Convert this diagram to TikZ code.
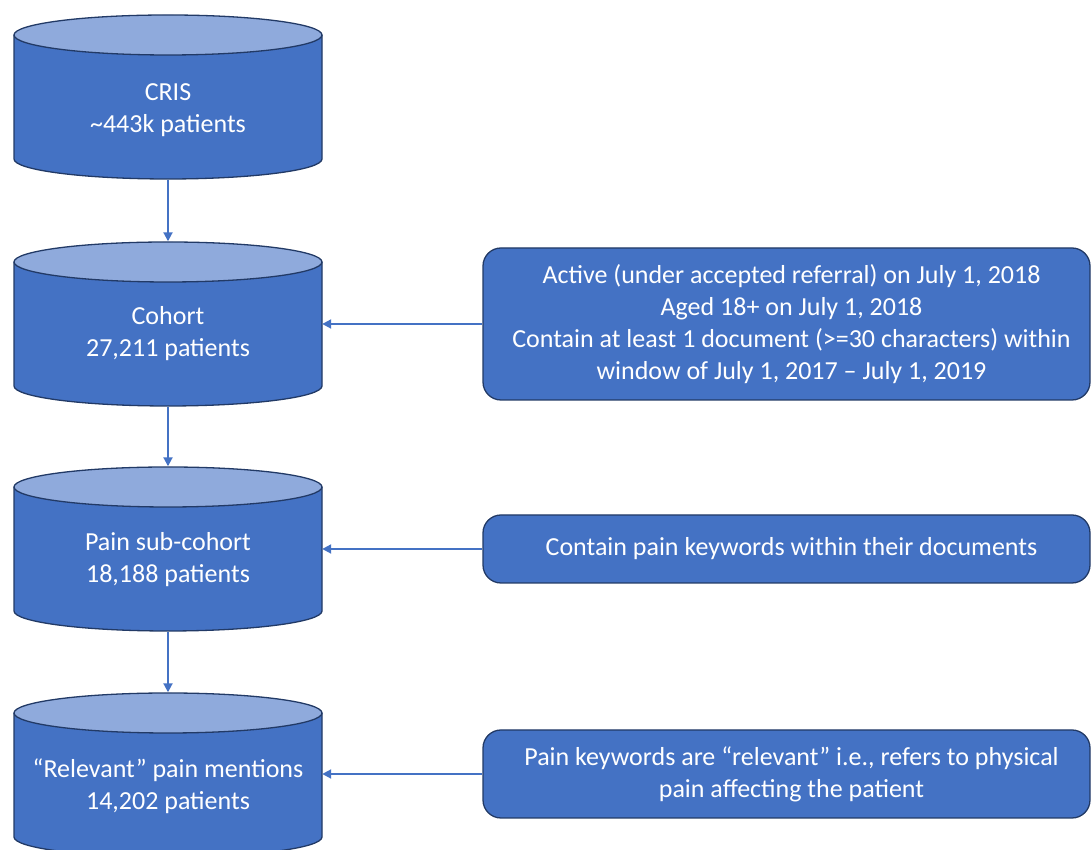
\documentclass[tikz,border=0pt]{standalone}
\usepackage{fontspec}
\setmainfont{Carlito}
\usetikzlibrary{arrows.meta,calc}
\definecolor{offblue}{HTML}{4472C4}
\definecolor{lightblue}{HTML}{8FAADC}
\definecolor{edgeblue}{HTML}{223A66}
\tikzset{
  cyltop/.style={fill=lightblue,draw=edgeblue,line width=1.3pt},
  cylanchor/.style={rectangle,minimum width=308pt,minimum height=165pt,inner sep=0pt},
  txt/.style={text=white,font=\fontsize{26pt}{32pt}\selectfont,align=center,inner sep=0pt},
  critbox/.style={rectangle,rounded corners=18pt,fill=offblue,draw=edgeblue,line width=1.3pt,minimum width=607pt,inner sep=0pt,
    text=white,font=\fontsize{26pt}{32pt}\selectfont,align=center},
  arr/.style={draw=offblue,line width=2pt,-{Triangle[length=9pt,width=9pt]}}
}
% #1 = name, #2 = y of top ellipse centre
\newcommand\dbcyl[2]{%
  \fill[offblue] (14,#2) -- (14,#2-124) arc[start angle=180,end angle=360,x radius=154pt,y radius=20pt] -- (322,#2) -- cycle;
  \draw[edgeblue,line width=1.3pt] (14,#2) -- (14,#2-124) arc[start angle=180,end angle=360,x radius=154pt,y radius=20pt] -- (322,#2);
  \draw[cyltop] (168,#2) ellipse[x radius=154pt,y radius=20pt];
  \node[cylanchor] (#1) at (168,#2-62) {};
}
\begin{document}
\begin{tikzpicture}[x=1pt,y=1pt]
\useasboundingbox (0,0) rectangle (1092,850);
\dbcyl{c1}{815}
\dbcyl{c2}{588}
\dbcyl{c3}{363}
\dbcyl{c4}{137}
\node[txt] (t1) at (168,740) {CRIS\\\textasciitilde443k patients};
\node[txt] (t2) at (168,516) {Cohort\\27,211 patients};
\node[txt] (t3) at (168,290) {Pain sub-cohort\\18,188 patients};
\node[txt] (t4) at (168,64) {“Relevant” pain mentions\\14,202 patients};

\node[critbox,minimum height=152pt] (b1) at (786.5,526) {\hspace*{10pt}Active (under accepted referral) on July 1, 2018\\\hspace*{10pt}Aged 18+ on July 1, 2018\\\hspace*{10pt}Contain at least 1 document (>=30 characters) within\\\hspace*{10pt}window of July 1, 2017 – July 1, 2019};
\node[critbox,minimum height=68pt] (b2) at (786.5,301) {\hspace*{10pt}Contain pain keywords within their documents};
\node[critbox,minimum height=88pt] (b3) at (786.5,76) {\hspace*{10pt}Pain keywords are “relevant” i.e., refers to physical\\\hspace*{10pt}pain affecting the patient};

\draw[arr] (c1.south) -- (c2.north);
\draw[arr] (c2.south) -- (c3.north);
\draw[arr] (c3.south) -- (c4.north);
\draw[arr] (b1.west) -- (b1.west -| c2.east);
\draw[arr] (b2.west) -- (b2.west -| c3.east);
\draw[arr] (b3.west) -- (b3.west -| c4.east);
\end{tikzpicture}
\end{document}
